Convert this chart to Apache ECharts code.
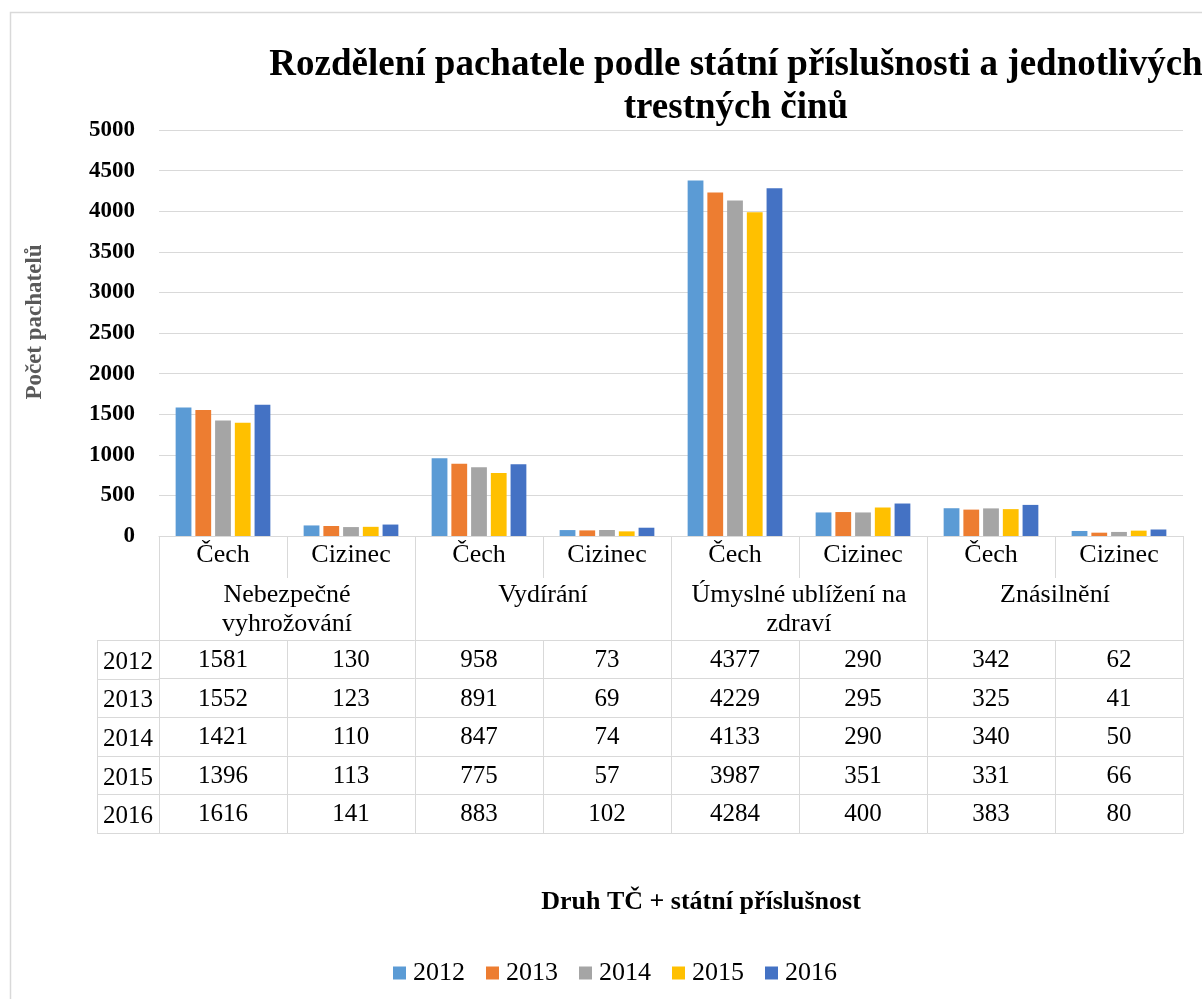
<!DOCTYPE html>
<html>
<head>
<meta charset="utf-8">
<script src="https://cdn.jsdelivr.net/npm/echarts@6/dist/echarts.min.js"></script>
<style>
  html, body { margin: 0; padding: 0; background: #fff; }
  #chart { width: 1202px; height: 999px; }
</style>
</head>
<body>
<div id="chart"></div>
<script>
//////////////////////////////////////////////////////////////////
// [ Data ]

const years = ['2012', '2013', '2014', '2015', '2016'];
const nationality = ['Čech', 'Cizinec'];
const crimes = ['Nebezpečné\nvyhrožování', 'Vydírání', 'Úmyslné ublížení na\nzdraví', 'Znásilnění'];

const values2012 = [1581, 130, 958, 73, 4377, 290, 342, 62];
const values2013 = [1552, 123, 891, 69, 4229, 295, 325, 41];
const values2014 = [1421, 110, 847, 74, 4133, 290, 340, 50];
const values2015 = [1396, 113, 775, 57, 3987, 351, 331, 66];
const values2016 = [1616, 141, 883, 102, 4284, 400, 383, 80];

const yTicks = { min: 0, max: 5000, interval: 500 };

//////////////////////////////////////////////////////////////////
// [ Layout ]

const font = '"Liberation Serif", "Times New Roman", serif';
const lineColor = '#d9d9d9';
const colors = ['#5B9BD5', '#ED7D31', '#A5A5A5', '#FFC000', '#4472C4'];

const gridLeft = 159, gridRight = 1183, gridTop = 130, gridBottom = 536;
const catRowH = 42, groupRowH = 62, rowH = 38.6, yearColLeft = 97;

const categories = crimes.flatMap(() => nationality);
const seriesValues = [values2012, values2013, values2014, values2015, values2016];

//////////////////////////////////////////////////////////////////
// [ Chart ]

const chart = echarts.init(document.getElementById('chart'));

const baseAxis = {
    type: 'category',
    gridIndex: 0,
    position: 'bottom',
    axisLine: { onZero: false, lineStyle: { color: lineColor } },
    axisTick: { show: true, interval: 0, lineStyle: { color: lineColor } },
    axisLabel: { interval: 0, color: '#000', fontFamily: font, fontSize: 25 },
    axisPointer: { show: false },
    splitLine: { show: false }
};

const xAxes = [
    // Čech / Cizinec row
    Object.assign({}, baseAxis, {
        data: categories,
        axisTick: Object.assign({}, baseAxis.axisTick, { length: catRowH }),
        axisLabel: Object.assign({}, baseAxis.axisLabel, { margin: 6, fontSize: 26 })
    }),
    // crime groups row
    Object.assign({}, baseAxis, {
        data: crimes,
        offset: catRowH,
        axisLine: { show: false, onZero: false },
        axisTick: Object.assign({}, baseAxis.axisTick, { length: groupRowH }),
        axisLabel: Object.assign({}, baseAxis.axisLabel, { margin: 3, lineHeight: 29, fontSize: 26 })
    })
];

// one axis per table row, the year as axis name
years.forEach(function (year, i) {
    xAxes.push(Object.assign({}, baseAxis, {
        data: seriesValues[i].map(String),
        offset: catRowH + groupRowH + i * rowH,
        axisTick: Object.assign({}, baseAxis.axisTick, { length: rowH }),
        axisLabel: Object.assign({}, baseAxis.axisLabel, { margin: 8 }),
        name: year,
        nameLocation: 'start',
        nameGap: (gridLeft - yearColLeft) / 2,
        nameTextStyle: {
            color: '#000', fontFamily: font, fontSize: 25,
            align: 'center', verticalAlign: 'top', lineHeight: rowH,
            padding: [3, 0, 0, 0]
        }
    }));
});

// bottom border of the table
xAxes.push(Object.assign({}, baseAxis, {
    data: categories.map(() => ''),
    offset: catRowH + groupRowH + years.length * rowH,
    axisTick: { show: false },
    axisLabel: { show: false }
}));

// year column borders
const tableTop = gridBottom + catRowH + groupRowH;
const tableBottom = tableTop + years.length * rowH;
const yearLines = [{
    type: 'line',
    shape: { x1: yearColLeft + 0.5, y1: tableTop, x2: yearColLeft + 0.5, y2: tableBottom },
    style: { stroke: lineColor, lineWidth: 1 }
}];
for (let i = 0; i <= years.length; i++) {
    const y = Math.round(tableTop + i * rowH) + 0.5;
    yearLines.push({
        type: 'line',
        shape: { x1: yearColLeft, y1: y, x2: gridLeft, y2: y },
        style: { stroke: lineColor, lineWidth: 1 }
    });
}

const options = {
    color: colors,
    animation: false,
    title: [
        {
            text: 'Rozdělení pachatele podle státní příslušnosti a jednotlivých\ntrestných činů',
            left: 731,
            top: 39,
            textAlign: 'center',
            textStyle: { fontFamily: font, fontSize: 37, fontWeight: 'bold', color: '#000', lineHeight: 43 }
        },
        {
            text: 'Druh TČ + státní příslušnost',
            left: 696,
            top: 884,
            textAlign: 'center',
            textStyle: { fontFamily: font, fontSize: 26, fontWeight: 'bold', color: '#000' }
        }
    ],
    legend: {
        data: years,
        left: 388,
        top: 955,
        icon: 'rect',
        itemWidth: 13,
        itemHeight: 13,
        itemGap: 21,
        textStyle: { fontFamily: font, fontSize: 26, color: '#000', padding: [0, 0, 0, 2] }
    },
    grid: {
        left: gridLeft,
        right: 1202 - gridRight,
        top: gridTop,
        bottom: 999 - gridBottom,
        containLabel: false
    },
    xAxis: xAxes,
    yAxis: {
        type: 'value',
        min: yTicks.min,
        max: yTicks.max,
        interval: yTicks.interval,
        name: 'Počet pachatelů',
        nameLocation: 'middle',
        nameGap: 112,
        nameRotate: 90,
        nameTextStyle: {
            fontFamily: font, fontSize: 23, fontWeight: 'bold', color: '#595959',
            padding: [0, 0, 0, 22]
        },
        axisLine: { show: false },
        axisTick: { show: false },
        axisLabel: {
            margin: 24, fontFamily: font, fontSize: 23, fontWeight: 'bold', color: '#000',
            formatter: function (value) { return String(value); }
        },
        splitLine: { lineStyle: { color: lineColor, width: 1 } }
    },
    series: years.map(function (year, i) {
        return {
            name: year,
            type: 'bar',
            xAxisIndex: 0,
            data: seriesValues[i],
            barGap: '25%',
            barCategoryGap: '26%'
        };
    }),
    graphic: [
        {
            type: 'rect',
            shape: { x: 10.5, y: 12.5, width: 1300, height: 1100 },
            style: { fill: 'none', stroke: lineColor, lineWidth: 1.5 },
            silent: true
        }
    ].concat(yearLines)
};

chart.setOption(options);

window.addEventListener('resize', function () {
    chart.resize();
});
</script>
</body>
</html>
